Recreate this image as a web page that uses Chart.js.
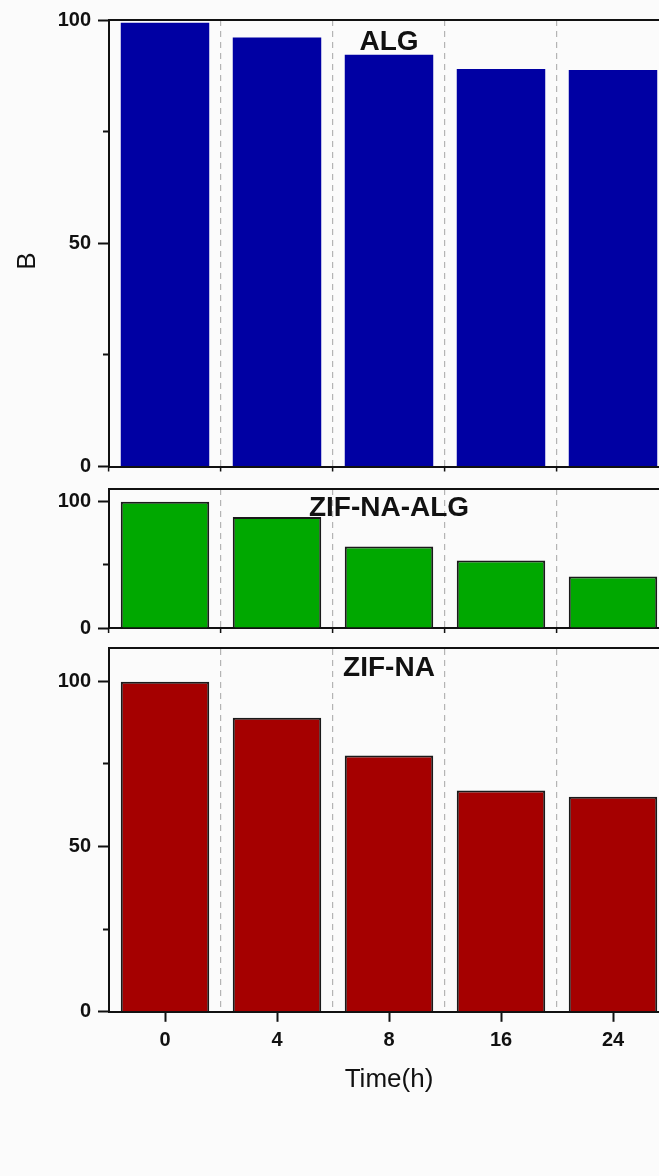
<!DOCTYPE html>
<html>
<head>
<meta charset="utf-8">
<script src="https://cdn.jsdelivr.net/npm/chart.js@4/dist/chart.umd.min.js"></script>
<style>
  html, body { margin: 0; padding: 0; background: #fbfbfb; overflow: hidden; width: 659px; height: 1176px; }
  canvas { position: absolute; left: 0; }
</style>
</head>
<body>
<canvas id="panelAlg" width="680" height="480" style="top:0px"></canvas>
<canvas id="panelZifNaAlg" width="680" height="160" style="top:480px"></canvas>
<canvas id="panelZifNa" width="680" height="536" style="top:640px"></canvas>
<script>
// Time points (hours) shared by all three panels
const times = ['0', '4', '8', '16', '24'];

// Series values, one array per material
const algValues      = [99.4, 96.1, 92.2, 89.0, 88.8];
const zifNaAlgValues = [100, 87.9, 64.5, 53.4, 40.7];
const zifNaValues    = [99.8, 88.9, 77.5, 66.9, 65.0];

// Panel names
const panelNames = ['ALG', 'ZIF-NA-ALG', 'ZIF-NA'];

// Y tick values (labelled major ticks and short minor ticks)
const algMajorTicks = [0, 50, 100];
const algMinorTicks = [25, 75];
const zifNaAlgMajorTicks = [0, 100];
const zifNaAlgMinorTicks = [50];
const zifNaMajorTicks = [0, 50, 100];
const zifNaMinorTicks = [25, 75];

const FONT = '"Liberation Sans", Arial, Helvetica, sans-serif';
const INK = '#111111';
Chart.defaults.font.family = FONT;
Chart.defaults.color = INK;

// Bold panel name drawn inside the plot area above the "8" category
const panelLabel = {
  id: 'panelLabel',
  afterDatasetsDraw(chart, args, opts) {
    if (!opts || !opts.text) return;
    const { ctx } = chart;
    const x = chart.scales.x.getPixelForValue(opts.at);
    ctx.save();
    ctx.font = 'bold 28px ' + FONT;
    ctx.fillStyle = INK;
    ctx.textAlign = 'center';
    ctx.textBaseline = 'alphabetic';
    ctx.fillText(opts.text, x, opts.baseline);
    if (opts.yTitle) {
      ctx.translate(opts.yTitle.x, opts.yTitle.y);
      ctx.rotate(-Math.PI / 2);
      ctx.font = '26px ' + FONT;
      ctx.textBaseline = 'middle';
      ctx.fillText(opts.yTitle.text, 0, 0);
    }
    ctx.restore();
  }
};

function makePanel(id, cfg) {
  const canvas = document.getElementById(id);
  const H = canvas.height;
  const axisBottomHeight = H - cfg.plotBottom;

  const scales = {
    y: {
      position: 'left', weight: 1, min: 0, max: cfg.yMax,
      afterBuildTicks: s => { s.ticks = cfg.majorTicks.map(v => ({ value: v })); },
      ticks: { font: { size: 20, weight: 'bold' }, color: INK, padding: 7 },
      grid: { drawOnChartArea: false, tickLength: 11, tickWidth: 2, tickColor: INK },
      border: { display: true, color: INK, width: 2 },
      afterFit: s => { s.width = 109; s.paddingTop = 0; s.paddingBottom = 0; }
    },
    yMinor: {
      position: 'left', weight: 0, min: 0, max: cfg.yMax,
      afterBuildTicks: s => { s.ticks = cfg.minorTicks.map(v => ({ value: v })); },
      ticks: { display: false },
      grid: { drawOnChartArea: false, tickLength: 6, tickWidth: 2, tickColor: INK },
      border: { display: false },
      afterFit: s => { s.width = 0; s.paddingTop = 0; s.paddingBottom = 0; }
    },
    xt: {
      type: 'category', position: 'top', offset: true,
      grid: cfg.showTimeAxis
        ? { offset: true, drawTicks: false, color: '#b4b4b4', lineWidth: 1.2 }
        : { drawTicks: false, color: 'rgba(0,0,0,0)', lineWidth: 1 },
      border: { display: true, color: INK, width: 2, dash: [6, 5] },
      ticks: { display: false },
      afterFit: s => { s.height = 0; s.paddingLeft = 0; s.paddingRight = 0; }
    }
  };

  if (cfg.showTimeAxis) {
    scales.x = {
      type: 'category', position: 'bottom', offset: true,
      grid: { offset: false, drawOnChartArea: false, tickLength: 10, tickWidth: 2, tickColor: INK },
      border: { display: true, color: INK, width: 2 },
      ticks: { font: { size: 20, weight: 'bold' }, color: INK, padding: 7, maxRotation: 0 },
      title: { display: true, text: 'Time(h)', font: { size: 26 }, color: INK, padding: { top: 4, bottom: 0 } },
      afterFit: s => { s.paddingLeft = 0; s.paddingRight = 0; }
    };
  } else {
    scales.x = {
      type: 'category', position: 'bottom', offset: true,
      grid: { offset: true, color: '#b4b4b4', lineWidth: 1.2, tickLength: 5, tickWidth: 1.5, tickColor: INK, tickBorderDash: [] },
      border: { display: true, color: INK, width: 2, dash: [6, 5] },
      ticks: { display: false },
      afterFit: s => { s.height = axisBottomHeight; s.paddingLeft = 0; s.paddingRight = 0; }
    };
  }

  return new Chart(canvas, {
    type: 'bar',
    data: {
      labels: times,
      datasets: [{
        label: cfg.name,
        data: cfg.values,
        xAxisID: 'x', yAxisID: 'y',
        backgroundColor: cfg.color,
        borderColor: cfg.edge || cfg.color,
        borderWidth: cfg.edge ? 2 : 0,
        barPercentage: 0.79,
        categoryPercentage: 1.0
      }]
    },
    options: {
      responsive: false,
      animation: false,
      devicePixelRatio: 1,
      layout: { padding: { top: cfg.plotTop, left: 0, right: 11, bottom: cfg.padBottom || 0 } },
      scales,
      plugins: {
        legend: { display: false },
        tooltip: { enabled: false },
        panelLabel: { text: cfg.name, at: 2, baseline: cfg.labelBaseline, yTitle: cfg.yTitle }
      }
    },
    plugins: [panelLabel]
  });
}

makePanel('panelAlg', {
  name: panelNames[0], values: algValues, color: '#0000a3',
  yMax: 100, majorTicks: algMajorTicks, minorTicks: algMinorTicks,
  plotTop: 20, plotBottom: 466.5, labelBaseline: 50,
  yTitle: { text: 'B', x: 28, y: 261 }
});

makePanel('panelZifNaAlg', {
  name: panelNames[1], values: zifNaAlgValues, color: '#00a800', edge: '#1a1a1a',
  yMax: 110, majorTicks: zifNaAlgMajorTicks, minorTicks: zifNaAlgMinorTicks,
  plotTop: 9, plotBottom: 148, labelBaseline: 36
});

makePanel('panelZifNa', {
  name: panelNames[2], values: zifNaValues, color: '#a50000', edge: '#1a1a1a',
  yMax: 110, majorTicks: zifNaMajorTicks, minorTicks: zifNaMinorTicks,
  plotTop: 8, padBottom: 81, labelBaseline: 36, showTimeAxis: true
});
</script>
</body>
</html>
